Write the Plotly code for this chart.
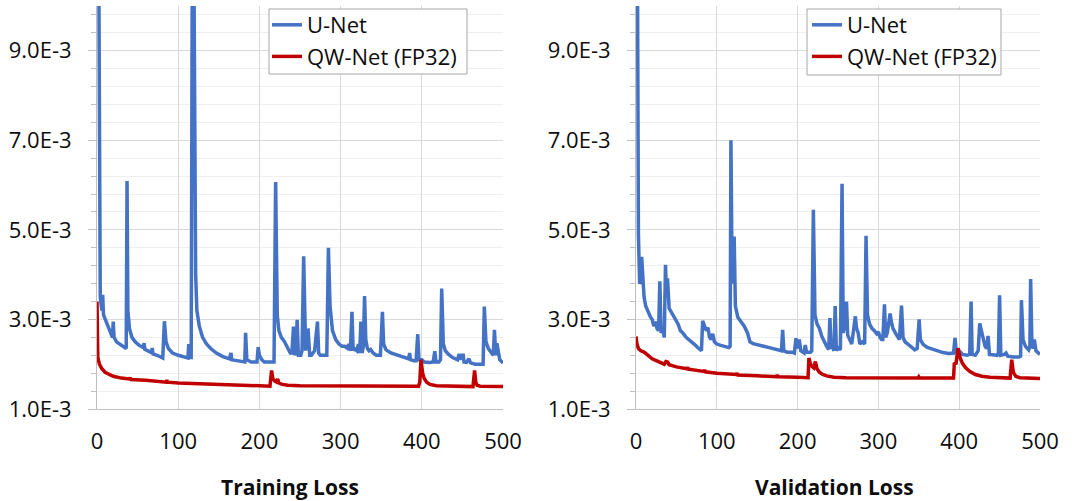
import numpy as np
import plotly.graph_objects as go

# ---------------- data (loss values in units of 1E-3) ----------------
train_unet_epoch = [0, 2, 4, 6, 7, 8, 10, 13, 16, 19, 20, 21, 24, 28, 32, 35, 36, 37, 38, 40, 43, 47, 52, 57, 58, 59, 64, 67, 68, 69, 74, 80, 81, 83, 85, 88, 93, 100, 107, 112, 113, 114, 116, 117.5, 119, 120.5, 121.5, 123, 126, 130, 135, 140, 147, 155, 163, 165, 166, 172, 180, 182, 183, 184.5, 190, 197, 198.5, 200, 203, 206, 212, 218, 220, 222, 224, 227, 231, 235, 238, 240, 242, 243.5, 245, 246.5, 248, 251, 252.5, 254.5, 256, 257, 258, 260, 262, 264, 266, 268, 271.5, 273, 275, 278, 283, 285, 287, 290, 294, 298, 302, 305, 308, 310, 312, 314, 315.5, 317, 320, 322, 323.5, 325, 326.5, 328, 329.5, 331, 333, 335, 337, 340, 344, 349, 351.5, 353, 356, 362, 370, 378, 384, 385, 386, 390, 393, 395, 396.5, 400, 403, 410, 414, 416, 417.5, 421, 423, 424.5, 426.5, 429, 433, 438, 442, 444, 446, 447, 449, 451, 452, 455, 458, 460, 466, 472, 475.5, 477, 479, 482, 486, 488, 489.5, 491, 492.5, 494, 496, 500]
train_unet_loss = [20, 12, 3.5, 3.2, 3.55, 3.1, 3.0, 2.85, 2.75, 2.6, 2.95, 2.6, 2.5, 2.45, 2.42, 2.38, 2.35, 6.09, 3.2, 2.8, 2.6, 2.5, 2.42, 2.37, 2.47, 2.33, 2.28, 2.26, 2.36, 2.23, 2.2, 2.15, 2.14, 2.96, 2.5, 2.35, 2.25, 2.2, 2.17, 2.14, 2.45, 2.15, 2.15, 12, 12, 4.1, 4.0, 3.2, 2.85, 2.6, 2.45, 2.35, 2.25, 2.17, 2.12, 2.25, 2.1, 2.08, 2.05, 2.05, 2.7, 2.1, 2.05, 2.05, 2.38, 2.2, 2.1, 2.05, 2.05, 2.05, 6.07, 3.1, 2.75, 2.6, 2.5, 2.35, 2.25, 2.25, 2.84, 2.2, 2.3, 2.99, 2.2, 2.2, 2.3, 4.41, 2.5, 2.3, 2.75, 2.76, 2.2, 2.2, 2.25, 2.3, 2.95, 2.25, 2.2, 2.2, 2.2, 4.6, 3.3, 2.75, 2.55, 2.45, 2.4, 2.4, 2.36, 2.45, 2.3, 3.17, 2.3, 2.35, 2.3, 2.45, 2.25, 2.95, 2.25, 2.4, 3.52, 2.55, 2.35, 2.3, 2.33, 2.25, 2.2, 2.2, 3.17, 2.45, 2.32, 2.25, 2.2, 2.15, 2.12, 2.25, 2.1, 2.08, 2.08, 2.67, 2.1, 2.1, 2.05, 2.04, 2.05, 2.29, 2.05, 2.05, 2.1, 3.69, 2.45, 2.3, 2.22, 2.15, 2.12, 2.1, 2.23, 2.1, 2.2, 2.2, 2.05, 2.04, 2.12, 2.03, 2.0, 2.0, 2.0, 3.29, 2.5, 2.35, 2.25, 2.2, 2.77, 2.2, 2.47, 2.3, 2.1, 2.03]

train_qw_epoch = [0, 1, 3, 6, 10, 15, 20, 30, 40, 41, 42, 60, 85, 86, 87, 100, 130, 160, 190, 213, 215, 216.5, 219, 221, 222.5, 224, 228, 235, 250, 300, 350, 396, 397.5, 399, 401, 403, 406, 410, 418, 440, 463, 465, 466.5, 468, 472, 500]
train_qw_loss = [3.4, 2.15, 2.0, 1.9, 1.82, 1.77, 1.73, 1.69, 1.67, 1.7, 1.66, 1.64, 1.6, 1.64, 1.6, 1.58, 1.56, 1.54, 1.52, 1.51, 1.86, 1.68, 1.62, 1.6, 1.67, 1.58, 1.55, 1.53, 1.52, 1.51, 1.51, 1.51, 1.6, 2.1, 1.8, 1.68, 1.6, 1.55, 1.52, 1.51, 1.5, 1.86, 1.6, 1.53, 1.51, 1.5]

val_unet_epoch = [0, 1.5, 3, 4.5, 6, 7, 8.5, 10, 12, 15, 18, 20, 22, 24, 26, 28, 29.5, 31, 33, 35, 36.5, 38, 39, 41, 44, 48, 52, 55, 58, 62, 68, 72, 76, 80, 81, 82.5, 85, 87, 89, 91, 93, 95, 97, 100, 105, 110, 115, 116.5, 117.5, 119, 120, 121.5, 123, 126, 130, 134, 138, 141, 145, 150, 158, 165, 172, 180, 181.5, 183, 187, 193, 196, 198, 200, 202, 204, 206, 208, 209.5, 211, 216, 217.5, 219.5, 221.5, 224, 227, 230, 233, 236, 238.5, 240, 241.5, 243, 245, 246.5, 248, 250, 252, 253, 255, 256.5, 258, 260.5, 262, 264, 267, 271.5, 273, 275, 277, 280, 283, 284.7, 286.5, 289, 292, 295, 298, 300, 302, 304, 305.5, 307.5, 309, 311, 314.5, 316, 318, 321, 324, 326, 328.6, 330.5, 333, 337, 341, 345, 348, 350.4, 352, 355, 360, 365, 372, 380, 387, 393, 394.8, 396.5, 400, 404, 410, 413, 414.7, 416, 420, 423.5, 425.4, 427, 429.5, 432, 434, 435.7, 437.5, 443, 447, 448.5, 450, 451.5, 456, 458, 460, 467, 474, 476, 477, 479, 482, 486, 487.5, 488.4, 490, 491.5, 493, 495, 500]
val_unet_loss = [20, 12, 4.9, 3.8, 3.85, 4.4, 3.7, 3.5, 3.3, 3.15, 3.05, 3.0, 2.85, 2.95, 2.8, 2.75, 3.85, 2.7, 2.8, 2.6, 4.22, 3.5, 3.92, 3.25, 3.15, 3.05, 2.9, 2.75, 2.7, 2.6, 2.52, 2.45, 2.38, 2.32, 2.3, 2.97, 2.84, 2.75, 2.82, 2.6, 2.55, 2.68, 2.5, 2.45, 2.42, 2.4, 2.37, 2.4, 7.0, 3.8, 4.0, 4.85, 3.3, 3.05, 2.95, 2.85, 2.7, 2.5, 2.46, 2.43, 2.4, 2.37, 2.33, 2.3, 2.77, 2.3, 2.27, 2.27, 2.25, 2.58, 2.35, 2.55, 2.3, 2.27, 2.25, 2.43, 2.27, 2.27, 2.3, 5.45, 3.1, 2.9, 2.8, 2.62, 2.5, 2.4, 2.33, 3.03, 2.35, 2.4, 2.3, 3.3, 2.3, 2.4, 2.32, 2.35, 6.03, 2.7, 2.84, 3.4, 2.65, 2.55, 2.45, 3.07, 2.8, 2.7, 2.45, 2.5, 2.45, 4.87, 3.1, 2.9, 2.8, 2.75, 2.68, 2.72, 2.6, 2.55, 2.55, 3.34, 2.6, 2.7, 3.13, 2.95, 2.8, 2.7, 2.6, 2.55, 3.31, 2.6, 2.5, 2.45, 2.38, 2.32, 2.35, 3.0, 2.55, 2.45, 2.38, 2.35, 2.3, 2.26, 2.24, 2.25, 2.59, 2.25, 2.3, 2.22, 2.2, 2.22, 3.4, 2.22, 2.2, 2.3, 2.91, 2.8, 2.6, 2.4, 2.35, 2.63, 2.22, 2.2, 2.2, 2.25, 3.54, 2.2, 2.22, 2.25, 2.18, 2.16, 2.16, 2.18, 3.43, 2.55, 2.4, 2.32, 2.4, 3.9, 2.45, 2.35, 2.55, 2.3, 2.22]

val_qw_epoch = [0, 1, 3, 6, 10, 15, 20, 25, 30, 35, 37, 39, 41, 50, 63, 64, 65, 80, 84, 85, 86, 100, 124, 125, 126, 150, 174, 175, 176, 200, 213, 214, 216, 218, 220, 222, 224, 227, 231, 236, 245, 260, 300, 349, 350, 351, 393, 394, 396, 398.5, 401, 404, 408, 413, 420, 428, 438, 450, 463, 465, 467, 470, 475, 500]
val_qw_loss = [2.62, 2.47, 2.35, 2.3, 2.27, 2.2, 2.12, 2.08, 2.04, 2.0, 2.06, 2.05, 1.99, 1.94, 1.9, 1.93, 1.89, 1.85, 1.84, 1.87, 1.83, 1.8, 1.77, 1.8, 1.76, 1.74, 1.72, 1.76, 1.72, 1.71, 1.7, 2.14, 2.0, 1.95, 1.92, 2.06, 1.9, 1.82, 1.77, 1.74, 1.71, 1.7, 1.69, 1.69, 1.72, 1.69, 1.69, 2.03, 2.0, 2.36, 2.15, 2.02, 1.92, 1.84, 1.77, 1.73, 1.71, 1.7, 1.69, 2.1, 1.82, 1.73, 1.7, 1.68]

series_names = ["U-Net", "QW-Net (FP32)"]
panel_titles = ["Training Loss", "Validation Loss"]
x_tick_vals = [0, 100, 200, 300, 400, 500]
y_tick_vals = [1.0e-3, 3.0e-3, 5.0e-3, 7.0e-3, 9.0e-3]
y_tick_text = ["1.0E-3", "3.0E-3", "5.0E-3", "7.0E-3", "9.0E-3"]

BLUE = "#4472C4"
RED = "#C00000"
FONT = "Open Sans"
TXT = "#0d0d0d"
SCALE = 1e-3

fig = go.Figure()
panels = [
    (train_unet_epoch, train_unet_loss, train_qw_epoch, train_qw_loss, "x", "y", "legend"),
    (val_unet_epoch, val_unet_loss, val_qw_epoch, val_qw_loss, "x2", "y2", "legend2"),
]
for ue, ul, qe, ql, xa, ya, lg in panels:
    fig.add_trace(go.Scatter(x=ue, y=np.array(ul) * SCALE, mode="lines", name=series_names[0],
                             legendgroup="a", line=dict(color=BLUE, width=3.5),
                             xaxis=xa, yaxis=ya, legend=lg))
    fig.add_trace(go.Scatter(x=qe, y=np.array(ql) * SCALE, mode="lines", name=series_names[1],
                             legendgroup="b", line=dict(color=RED, width=3.5),
                             xaxis=xa, yaxis=ya, legend=lg))

W, H = 1083, 501
y_dom = [(H - 409) / H, (H - 6) / H]
x_doms = [[97 / W, 503 / W], [636 / W, 1040 / W]]

def xaxis_cfg(dom, anchor):
    return dict(domain=dom, anchor=anchor, range=[0, 500], tickmode="array", tickvals=x_tick_vals,
                ticks="", showgrid=True, gridcolor="#d9d9d9", gridwidth=1, zeroline=False,
                showline=True, linecolor="#bfbfbf", linewidth=1, automargin=False,
                tickfont=dict(family=FONT, size=22, color=TXT), ticklabelstandoff=13)

def yaxis_cfg(anchor):
    return dict(domain=y_dom, anchor=anchor, range=[1e-3, 10e-3], tickmode="array",
                tickvals=y_tick_vals, ticktext=y_tick_text, ticks="outside", ticklen=8,
                tickcolor="#bfbfbf", showgrid=True, gridcolor="#d9d9d9", gridwidth=1,
                zeroline=False, showline=True, linecolor="#bfbfbf", linewidth=1, automargin=False,
                minor=dict(tick0=1e-3, dtick=0.4e-3, ticks="outside", ticklen=5, tickcolor="#bfbfbf",
                           showgrid=True, gridcolor="#efefef"),
                tickfont=dict(family=FONT, size=22, color=TXT), ticklabelstandoff=12)

legend_common = dict(font=dict(family=FONT, size=22, color=TXT), bgcolor="rgba(0,0,0,0)",
                     borderwidth=0, xanchor="left", yanchor="top",
                     traceorder="grouped", tracegroupgap=0, itemwidth=30)

# legend frames (drawn as white boxes with a grey border behind the legend text)
legend_boxes = [(269, 9, 467, 74), (807, 9, 1001, 75)]
shapes = [dict(type="rect", xref="paper", yref="paper", x0=x0 / W, x1=x1 / W, y0=1 - y1 / H, y1=1 - y0 / H,
               line=dict(color="#a6a6a6", width=1), fillcolor="white", layer="above")
          for (x0, y0, x1, y1) in legend_boxes]

fig.update_layout(
    width=W, height=H, margin=dict(l=0, r=0, t=0, b=0, autoexpand=False),
    paper_bgcolor="white", plot_bgcolor="white",
    xaxis=xaxis_cfg(x_doms[0], "y"), yaxis=yaxis_cfg("x"),
    xaxis2=xaxis_cfg(x_doms[1], "y2"), yaxis2=yaxis_cfg("x2"),
    legend=dict(x=267 / W, y=1 - 4 / H, **legend_common),
    legend2=dict(x=807 / W, y=1 - 4 / H, **legend_common),
    shapes=shapes,
    annotations=[
        dict(text="<b>%s</b>" % panel_titles[0], x=290 / W, y=1 - 487 / H, xref="paper", yref="paper",
             showarrow=False, font=dict(family=FONT, size=21, color=TXT), xanchor="center", yanchor="middle"),
        dict(text="<b>%s</b>" % panel_titles[1], x=834 / W, y=1 - 487 / H, xref="paper", yref="paper",
             showarrow=False, font=dict(family=FONT, size=21, color=TXT), xanchor="center", yanchor="middle"),
    ],
)

fig.write_html("out.html", post_script="document.body.style.margin='0';",
               config={"displayModeBar": False})
